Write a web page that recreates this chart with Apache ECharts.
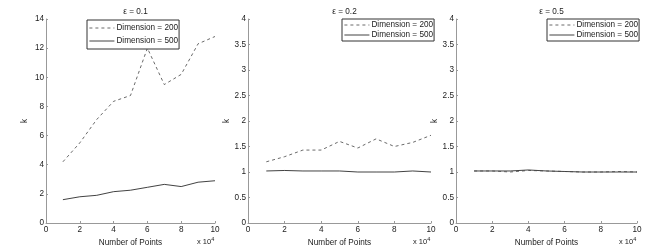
<!DOCTYPE html>
<html><head><meta charset="utf-8">
<script src="https://cdn.jsdelivr.net/npm/echarts@6/dist/echarts.min.js"></script>
<style>html,body{margin:0;padding:0;background:#fff}#c{width:672px;height:252px}</style>
</head><body><div id="c"></div>
<script>
var xPoints = [1,2,3,4,5,6,7,8,9,10];
var titles = ['ε = 0.1','ε = 0.2','ε = 0.5'];
var seriesNames = ['Dimension = 200','Dimension = 500'];
var eps01_dim200 = [4.2,5.5,7.1,8.35,8.75,12.0,9.5,10.2,12.3,12.8];
var eps01_dim500 = [1.6,1.8,1.9,2.15,2.25,2.45,2.65,2.5,2.8,2.9];
var eps02_dim200 = [1.2,1.3,1.43,1.43,1.6,1.47,1.65,1.5,1.58,1.72];
var eps02_dim500 = [1.02,1.03,1.02,1.02,1.02,1.0,1.0,1.0,1.02,1.0];
var eps05_dim200 = [1.02,1.02,1.0,1.03,1.02,1.01,1.0,1.0,1.01,1.0];
var eps05_dim500 = [1.02,1.02,1.02,1.04,1.02,1.01,1.0,1.0,1.0,1.0];
var yMax = [14,4,4];
var yInterval = [2,0.5,0.5];

var panels = [[eps01_dim200,eps01_dim500],[eps02_dim200,eps02_dim500],[eps05_dim200,eps05_dim500]];
var grids = [
  {left:46, right:457, top:19, bottom:29},
  {left:248, right:241, top:19, bottom:29},
  {left:456, right:35, top:19, bottom:29}
];
var legendPos = [
  {left:87, top:20, gap:5, pad:[4,1,4,2]},
  {left:342, top:19, gap:2, pad:[2,1,2,2]},
  {left:547, top:19, gap:2, pad:[2,1,2,2]}
];
var FONT = 'Liberation Sans, Arial, Helvetica, sans-serif';
var FS = 8.2;
var txt = '#222';
function pairs(ys){ return xPoints.map(function(x,i){return [x, ys[i]];}); }

var option = {
  animation:false,
  backgroundColor:'#fff',
  textStyle:{fontFamily:FONT},
  title:[], grid:[], xAxis:[], yAxis:[], series:[], legend:[], graphic:[]
};
for (var p=0;p<3;p++){
  var g = grids[p];
  var w = 672 - g.left - g.right;
  option.grid.push({left:g.left,right:g.right,top:g.top,bottom:g.bottom,containLabel:false});
  option.title.push({text:titles[p], left:g.left + w/2, top:3, textAlign:'center',
    textStyle:{fontSize:FS, fontWeight:'normal', color:txt, fontFamily:FONT}});
  option.xAxis.push({type:'value', gridIndex:p, min:0, max:10, interval:2,
    name:'Number of Points', nameLocation:'middle', nameGap:13,
    nameTextStyle:{fontSize:FS, color:txt, fontFamily:FONT},
    axisLine:{show:true, onZero:false, lineStyle:{color:'#999', width:1}},
    axisTick:{show:true, inside:true, length:2, lineStyle:{color:'#999'}},
    axisLabel:{fontSize:FS, color:txt, margin:3, fontFamily:FONT},
    splitLine:{show:false}});
  option.yAxis.push({type:'value', gridIndex:p, min:0, max:yMax[p], interval:yInterval[p],
    name:'k', nameLocation:'middle', nameGap:17, nameRotate:90,
    nameTextStyle:{fontSize:FS, color:txt, fontFamily:FONT},
    axisLine:{show:true, lineStyle:{color:'#999', width:1}},
    axisTick:{show:true, inside:true, length:2, lineStyle:{color:'#999'}},
    axisLabel:{fontSize:FS, color:txt, margin:2, fontFamily:FONT},
    splitLine:{show:false}});
  option.series.push({name:seriesNames[0], type:'line', xAxisIndex:p, yAxisIndex:p,
    data:pairs(panels[p][0]), symbol:'none', showSymbol:false,
    lineStyle:{type:[3,3], width:0.8, color:'#444'}, itemStyle:{color:'#444'}, z:3});
  option.series.push({name:seriesNames[1], type:'line', xAxisIndex:p, yAxisIndex:p,
    data:pairs(panels[p][1]), symbol:'none', showSymbol:false,
    lineStyle:{type:'solid', width:0.8, color:'#111'}, itemStyle:{color:'#111'}, z:2});
  var L = legendPos[p];
  option.legend.push({data:seriesNames, orient:'vertical', left:L.left, top:L.top,
    itemWidth:25, itemHeight:7, itemGap:L.gap, padding:L.pad,
    borderColor:'#333', borderWidth:1, backgroundColor:'#fff', selectedMode:false,
    itemStyle:{opacity:0}, lineStyle:{width:0.8},
    textStyle:{fontSize:FS, color:txt, fontFamily:FONT, padding:[0,0,0,-3]}});
  option.graphic.push({type:'text', left:672 - g.right - 18, top:236,
    style:{text:'{a|x 10}{b|4}', fill:txt, fontFamily:FONT,
      rich:{a:{fontSize:7.5, fontFamily:FONT, fill:txt}, b:{fontSize:5.5, fontFamily:FONT, verticalAlign:'top', padding:[0,0,5,0], fill:txt}}}});
}
var chart = echarts.init(document.getElementById('c'), null, {renderer:'canvas'});
chart.setOption(option);
</script>
</body></html>
